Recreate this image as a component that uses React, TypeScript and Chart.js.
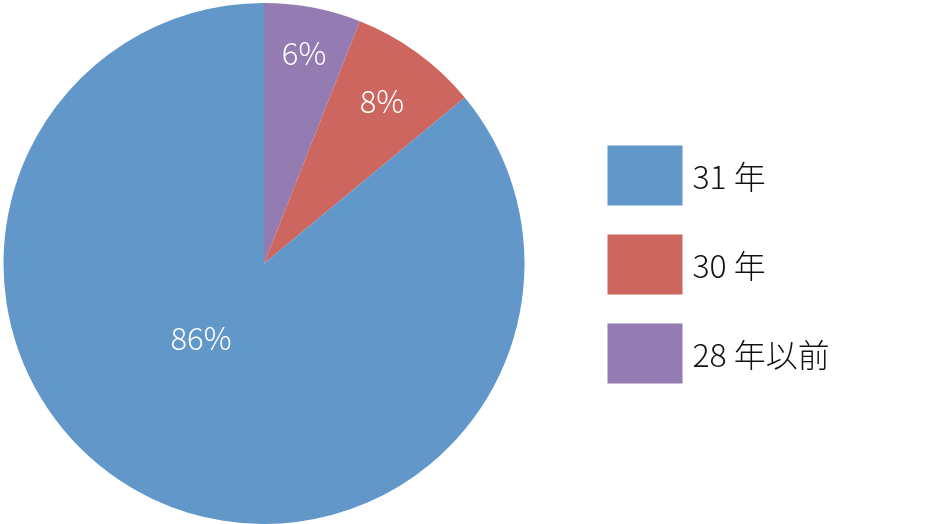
import React, { useEffect, useRef } from "react";
import { Chart, registerables } from "chart.js";

Chart.register(...registerables);

const categories = ["31 年", "30 年", "28 年以前"];
const values = [86, 8, 6];
const colors = ["#6197C9", "#CC665F", "#947BB1"];

const FONT = '"Noto Sans CJK JP", "Noto Sans", sans-serif';

// slices are drawn counter-clockwise from the top in the reference, so feed them reversed
const drawLabels = [...categories].reverse();
const drawValues = [...values].reverse();
const drawColors = [...colors].reverse();

const labelPlugin = {
  id: "sliceLabels",
  afterDatasetsDraw(chart: any) {
    const meta = chart.getDatasetMeta(0);
    const ctx = chart.ctx;
    const total = drawValues.reduce((a, b) => a + b, 0);
    ctx.save();
    ctx.fillStyle = "#ffffff";
    ctx.font = `300 31px ${FONT}`;
    ctx.textAlign = "center";
    ctx.textBaseline = "middle";
    meta.data.forEach((arc: any, i: number) => {
      const p = arc.getProps(["x", "y", "startAngle", "endAngle", "outerRadius"], true);
      const frac = drawValues[i] / total;
      let mid = (p.startAngle + p.endAngle) / 2;
      let f = 0.8;
      if (frac > 0.5) {
        mid += (15 * Math.PI) / 180;
        f = 0.375;
      } else if (frac > 0.07) {
        f = 0.77;
      } else {
        f = 0.82;
      }
      const x = p.x + Math.cos(mid) * p.outerRadius * f;
      const y = p.y + Math.sin(mid) * p.outerRadius * f;
      ctx.fillText(Math.round(frac * 100) + "%", x, y);
    });
    ctx.restore();
  },
};

const legendPlugin = {
  id: "sideLegend",
  afterDraw(chart: any) {
    const ctx = chart.ctx;
    const area = chart.chartArea;
    const left = area.right + 83;
    const boxW = 75;
    const boxH = 60;
    const step = 89;
    const cy = (area.top + area.bottom) / 2;
    const top0 = cy - (step * (categories.length - 1)) / 2 - boxH / 2 + 1;
    ctx.save();
    ctx.font = `300 32px ${FONT}`;
    ctx.textBaseline = "middle";
    ctx.textAlign = "left";
    categories.forEach((c, i) => {
      const y = top0 + i * step;
      ctx.fillStyle = colors[i];
      ctx.fillRect(left, y, boxW, boxH);
      ctx.fillStyle = "#111111";
      ctx.fillText(c, left + boxW + 10, y + boxH / 2 + 1);
    });
    ctx.restore();
  },
};

export default function App() {
  const ref = useRef<HTMLCanvasElement | null>(null);
  useEffect(() => {
    document.body.style.margin = "0";
    const chart = new Chart(ref.current as HTMLCanvasElement, {
      type: "pie",
      data: {
        labels: drawLabels,
        datasets: [
          {
            data: drawValues,
            backgroundColor: drawColors,
            borderWidth: 0,
          },
        ],
      },
      options: {
        animation: false,
        responsive: false,
        maintainAspectRatio: false,
        layout: { padding: { left: 3.5, top: 3, right: 415.5, bottom: 0 } },
        plugins: {
          legend: { display: false },
          tooltip: { enabled: false },
        },
      },
      plugins: [labelPlugin, legendPlugin],
    });
    return () => chart.destroy();
  }, []);
  return (
    <div style={{ position: "absolute", left: 0, top: 0, width: 940, height: 524 }}>
      <canvas ref={ref} width={940} height={524} style={{ display: "block" }} />
    </div>
  );
}
